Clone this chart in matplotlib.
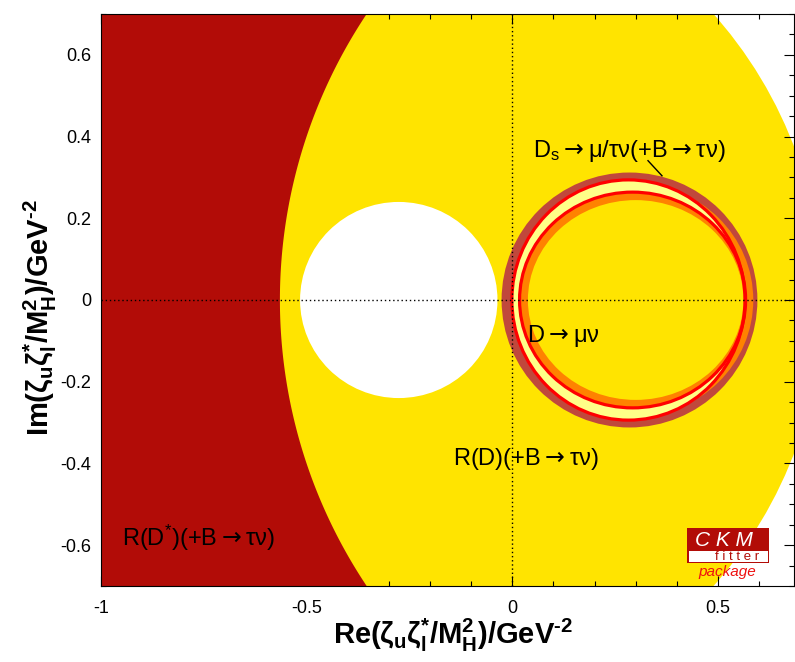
import numpy as np
import matplotlib
matplotlib.use("Agg")
import matplotlib.pyplot as plt
from matplotlib.patches import Circle, Ellipse, Rectangle
from matplotlib.ticker import MultipleLocator

plt.rcParams['font.family'] = ['Liberation Sans', 'DejaVu Sans']
plt.rcParams['axes.unicode_minus'] = False
plt.rcParams['mathtext.default'] = 'regular'

# Axis ranges and ticks
x_range = [-1.0, 0.685]
y_range = [-0.7, 0.7]
x_ticks = [-1, -0.5, 0, 0.5]
x_tick_labels = ["-1", "-0.5", "0", "0.5"]
y_ticks = [-0.6, -0.4, -0.2, 0, 0.2, 0.4, 0.6]
y_tick_labels = ["-0.6", "-0.4", "-0.2", "0", "0.2", "0.4", "0.6"]

# R(D*)(+B->tau nu): allowed inside circle centred on the real axis
rdstar_center = 0.702
rdstar_radius = 1.267

# R(D)(+B->tau nu): allowed between outer circle and inner hole
rd_outer_center = -0.304
rd_outer_radius = 1.058
rd_hole_center = -0.276
rd_hole_radius = 0.24

# Ds -> mu/tau nu and D -> mu nu rings: (centre, half width, half height)
ds_band = (0.285, 0.311, 0.312)
dmunu_outer = (0.296, 0.290, 0.285)
contour_outer = (0.2825, 0.2835, 0.294)
contour_inner = (0.2925, 0.2748, 0.264)
dmunu_inner = (0.300, 0.262, 0.2445)

# Colours
DARK_RED = '#b20c07'
YELLOW = '#ffe400'
BROWN = '#c0483c'
ORANGE = '#ff8200'
LIGHT_YELLOW = '#ffff88'
RED = '#ff0000'

ARROW = '$\\mathrm{\\rightarrow}$'

fig = plt.figure(figsize=(7.95, 6.62), dpi=100)
ax = fig.add_axes([101 / 795, 1 - 586 / 662, 693 / 795, 572 / 662])
ax.set_xlim(x_range)
ax.set_ylim(y_range)

# 1. big regions
ax.add_patch(Circle((rd_outer_center, 0), rd_outer_radius, facecolor=YELLOW, lw=0, zorder=1))
yy = np.linspace(y_range[0], y_range[1], 500)
ax.fill_betweenx(yy, x_range[0] - 0.1, rdstar_center - np.sqrt(rdstar_radius ** 2 - yy ** 2),
                 facecolor=DARK_RED, lw=0, zorder=2)
ax.add_patch(Circle((rd_hole_center, 0), rd_hole_radius, facecolor='white', lw=0, zorder=3))

# 2. ring of leptonic D / Ds decays
def ring(params, color, z, fill=True):
    c, a, b = params
    if fill:
        return Ellipse((c, 0), 2 * a, 2 * b, facecolor=color, lw=0, zorder=z)
    return Ellipse((c, 0), 2 * a, 2 * b, fill=False, edgecolor=color, lw=2.3, zorder=z)

ax.add_patch(ring(ds_band, BROWN, 4))
ax.add_patch(ring(dmunu_outer, ORANGE, 5))
ax.add_patch(ring(contour_outer, LIGHT_YELLOW, 6))
ax.add_patch(ring(contour_inner, ORANGE, 7))
ax.add_patch(ring(dmunu_inner, YELLOW, 8))
ax.add_patch(ring(contour_outer, RED, 9, fill=False))
ax.add_patch(ring(contour_inner, RED, 9, fill=False))

# 3. axes through origin
ax.axhline(0, color='black', lw=1, ls=(0, (1, 2)), zorder=10)
ax.axvline(0, color='black', lw=1, ls=(0, (1, 2)), zorder=10)

# 4. labels of constraints
fs = 17
ax.text(0.050, 0.350, 'D$_\\mathregular{s}$' + ARROW + 'μ/τν(+B' + ARROW + 'τν)', fontsize=fs, zorder=11)
ax.plot([0.330, 0.364], [0.341, 0.304], color='black', lw=1, zorder=11)
ax.text(0.035, -0.103, 'D' + ARROW + 'μν', fontsize=fs, zorder=11)
ax.text(-0.145, -0.404, 'R(D)(+B' + ARROW + 'τν)', fontsize=fs, zorder=11)
ax.text(-0.949, -0.603, 'R(D$^\\mathregular{*}$)(+B' + ARROW + 'τν)', fontsize=fs, zorder=11)

# 5. ticks and axis titles
ax.set_xticks(x_ticks, x_tick_labels)
ax.set_yticks(y_ticks, y_tick_labels)
ax.xaxis.set_minor_locator(MultipleLocator(0.1))
ax.yaxis.set_minor_locator(MultipleLocator(0.05))
ax.tick_params(which='both', direction='in', top=True, right=True, labelsize=13)
ax.tick_params(which='major', length=7, width=0.8)
ax.tick_params(which='minor', length=3.5, width=0.8)
ax.tick_params(axis='x', pad=10)
ax.tick_params(axis='y', pad=7)
for s in ax.spines.values():
    s.set_linewidth(0.8)
    s.set_zorder(12)

ax.set_xlabel('Re(ζ$_\\mathregular{u}$ζ$_\\mathregular{l}^\\mathregular{*}$/M$_\\mathregular{H}^\\mathregular{2}$)/GeV$^\\mathregular{\u20102}$',
              fontsize=21, fontweight='bold', va='center', ha='center')
ax.xaxis.set_label_coords(0.508, -0.0857)
ax.set_ylabel('Im(ζ$_\\mathregular{u}$ζ$_\\mathregular{l}^\\mathregular{*}$/M$_\\mathregular{H}^\\mathregular{2}$)/GeV$^\\mathregular{\u20102}$',
              fontsize=21, fontweight='bold', va='center', ha='center')
ax.yaxis.set_label_coords(-0.088, 0.4685)

# 6. CKMfitter logo
def fx(px):
    return px / 795

def fy(py):
    return 1 - py / 662

fig.add_artist(Rectangle((fx(687), fy(563)), fx(82), 35 / 662, transform=fig.transFigure,
                         facecolor=DARK_RED, lw=0))
fig.add_artist(Rectangle((fx(689), fy(561.5)), fx(79), 10.5 / 662, transform=fig.transFigure,
                         facecolor='white', lw=0))
fig.text(fx(724), fy(540), 'C K M', color='white', fontsize=15, style='italic',
         ha='center', va='center')
fig.text(fx(737), fy(556.5), 'f i t t e r', color=DARK_RED, fontsize=9.5,
         ha='center', va='center')
fig.text(fx(727), fy(572), 'package', color='#ee1111', fontsize=11, style='italic',
         ha='center', va='center')

fig.savefig('out.png', dpi=100)
